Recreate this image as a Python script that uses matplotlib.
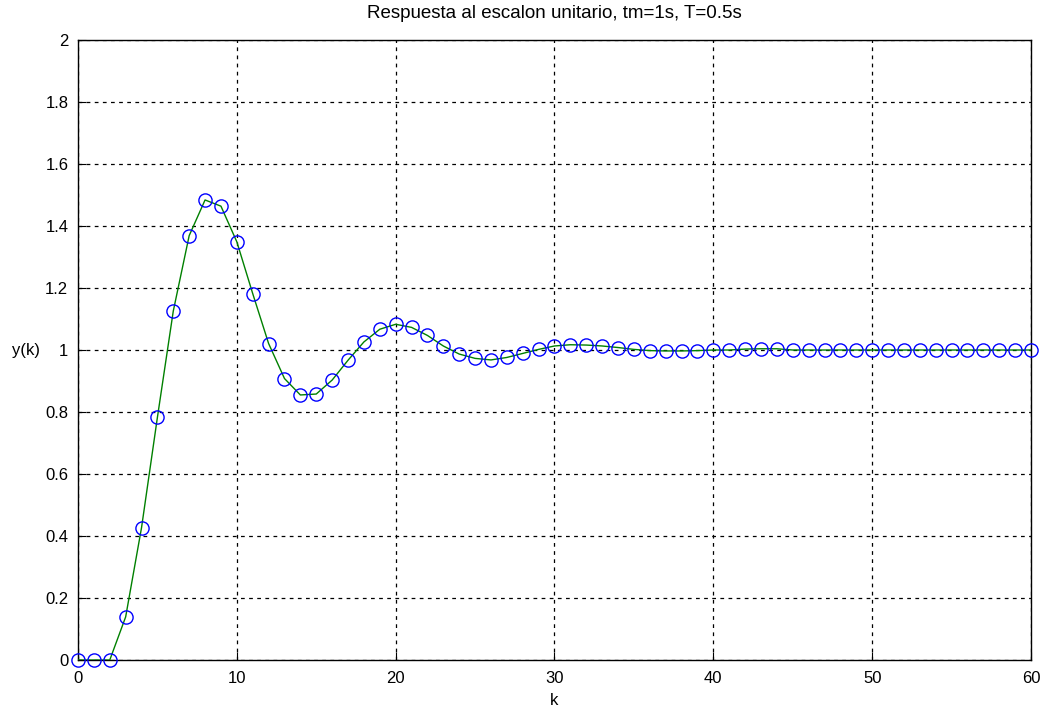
import numpy as np
import matplotlib
matplotlib.use("Agg")
import matplotlib.pyplot as plt

plt.rcParams['font.family'] = ['Liberation Sans Narrow', 'Liberation Sans', 'DejaVu Sans']

# step response samples y(k), k = 0..60
k = np.arange(61)
y = [0.0, 0.0, 0.0, 0.139, 0.427, 0.783, 1.126, 1.369, 1.484, 1.464,
     1.349, 1.182, 1.021, 0.908, 0.855, 0.858, 0.903, 0.967, 1.026, 1.067,
     1.083, 1.073, 1.047, 1.013, 0.987, 0.973, 0.968, 0.976, 0.989, 1.002,
     1.013, 1.017, 1.016, 1.013, 1.008, 1.002, 0.998, 0.997, 0.997, 0.998,
     1.0, 1.0, 1.003, 1.004, 1.004, 1.0, 1.0, 1.0, 1.0, 1.0,
     1.0, 1.0, 1.0, 1.0, 1.0, 1.0, 1.0, 1.0, 1.0, 1.0, 1.0]

xticks = [0, 10, 20, 30, 40, 50, 60]
yticks = [0, 0.2, 0.4, 0.6, 0.8, 1, 1.2, 1.4, 1.6, 1.8, 2]
ylabels = ['0', '0.2', '0.4', '0.6', '0.8', '1', '1.2', '1.4', '1.6', '1.8', '2']

fig = plt.figure(figsize=(10.47, 7.13), dpi=100)
ax = fig.add_axes([0.0745, 0.0743, 0.9102, 0.8696])

ax.plot(k, y, color=(0, 0.5, 0), lw=1.0, zorder=3)
ax.plot(k, y, 'o', mfc='none', mec='blue', ms=9.5, mew=1.0, zorder=4, clip_on=False)

ax.set_xlim(0, 60)
ax.set_ylim(0, 2)
ax.set_xticks(xticks)
ax.set_yticks(yticks)
ax.set_yticklabels(ylabels)
ax.grid(True, color='black', linestyle=(0, (3, 3.5)), linewidth=0.9)
ax.tick_params(direction='in', length=6, labelsize=12, colors='black')
ax.tick_params(axis='x', pad=8)
ax.tick_params(axis='y', pad=7)
for s in ax.spines.values():
    s.set_linewidth(1.0)

ax.set_title('Respuesta al escalon unitario, tm=1s, T=0.5s', fontsize=13.5, pad=16)
ax.set_xlabel('k', fontsize=12, labelpad=5)
ax.set_ylabel('y(k)', fontsize=12, rotation=0, labelpad=14, va='center')

fig.savefig('out.png', dpi=100)
